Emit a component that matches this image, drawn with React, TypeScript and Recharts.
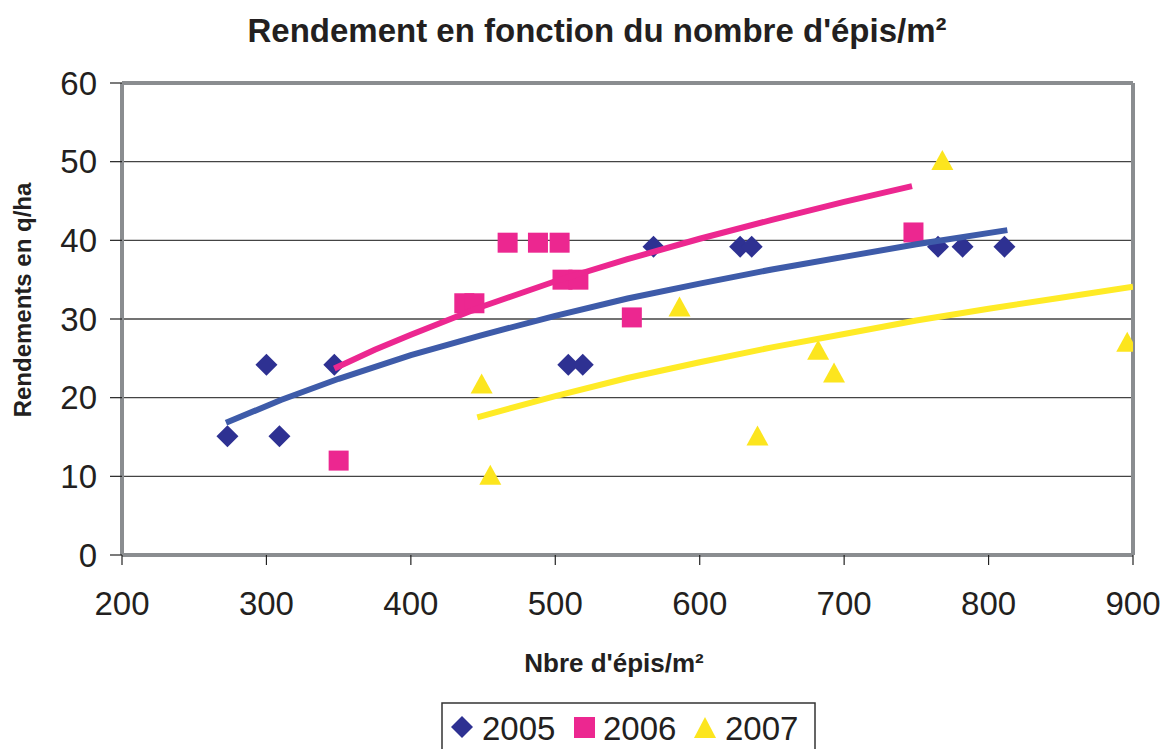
import React from 'react';
import {
  ScatterChart,
  Scatter,
  XAxis,
  YAxis,
  CartesianGrid,
  ReferenceLine
} from 'recharts';

// values
const xTicks = [200, 300, 400, 500, 600, 700, 800, 900];
const yTicks = [0, 10, 20, 30, 40, 50, 60];

const points2005 = [
  { x: 273, y: 15.1 }, { x: 300, y: 24.2 }, { x: 309, y: 15.1 }, { x: 347, y: 24.2 },
  { x: 509, y: 24.2 }, { x: 519, y: 24.2 }, { x: 568, y: 39.2 }, { x: 628, y: 39.2 },
  { x: 636, y: 39.2 }, { x: 765, y: 39.2 }, { x: 782, y: 39.2 }, { x: 811, y: 39.2 }
];
const points2006 = [
  { x: 350, y: 12.0 }, { x: 437, y: 32.0 }, { x: 444, y: 32.0 }, { x: 467, y: 39.7 },
  { x: 488, y: 39.7 }, { x: 503, y: 39.7 }, { x: 505, y: 35.0 }, { x: 516, y: 35.0 },
  { x: 553, y: 30.2 }, { x: 748, y: 41.0 }
];
const points2007 = [
  { x: 449, y: 21.8 }, { x: 455, y: 10.2 }, { x: 586, y: 31.6 }, { x: 640, y: 15.2 },
  { x: 682, y: 26.1 }, { x: 693, y: 23.2 }, { x: 768, y: 50.2 }, { x: 896, y: 27.1 }
];

// trend curves
const trend2005 = [
  { x: 272, y: 16.8 }, { x: 310, y: 19.7 }, { x: 350, y: 22.4 }, { x: 400, y: 25.4 },
  { x: 448, y: 27.9 }, { x: 500, y: 30.4 }, { x: 550, y: 32.6 }, { x: 600, y: 34.5 },
  { x: 650, y: 36.3 }, { x: 700, y: 37.9 }, { x: 750, y: 39.5 }, { x: 813, y: 41.3 }
];
const trend2006 = [
  { x: 347, y: 23.7 }, { x: 375, y: 26.1 }, { x: 400, y: 28.0 }, { x: 448, y: 31.5 },
  { x: 500, y: 34.8 }, { x: 550, y: 37.6 }, { x: 600, y: 40.2 }, { x: 650, y: 42.6 },
  { x: 700, y: 44.9 }, { x: 747, y: 46.9 }
];
const trend2007 = [
  { x: 446, y: 17.5 }, { x: 500, y: 20.2 }, { x: 550, y: 22.5 }, { x: 600, y: 24.5 },
  { x: 650, y: 26.4 }, { x: 700, y: 28.1 }, { x: 750, y: 29.8 }, { x: 800, y: 31.3 },
  { x: 850, y: 32.7 }, { x: 900, y: 34.1 }
];

const NAVY = '#2E3192';
const PINK = '#EC2790';
const YELLOW = '#FCE51E';
const BLUE_LINE = '#3E5BA9';
const PINK_LINE = '#EC2790';
const YELLOW_LINE = '#FFEB26';
const FRAME = '#8A8D90';
const FONT = '"Liberation Sans", Arial, Helvetica, sans-serif';

const Diamond = (props: any) => {
  const { cx, cy } = props;
  const r = 11;
  return <polygon points={`${cx},${cy - r} ${cx + r},${cy} ${cx},${cy + r} ${cx - r},${cy}`} fill={NAVY} />;
};

const Square = (props: any) => {
  const { cx, cy } = props;
  return <rect x={cx - 10} y={cy - 10} width={20} height={20} fill={PINK} />;
};

const Triangle = (props: any) => {
  const { cx, cy } = props;
  return <polygon points={`${cx},${cy - 10} ${cx + 11},${cy + 10} ${cx - 11},${cy + 10}`} fill={YELLOW} />;
};

const NoDot = () => <g />;

export default function App() {
  return (
    <div style={{ position: 'absolute', left: 0, top: 0, width: 1161, height: 749, background: '#fff' }}>
      <ScatterChart
        width={1161}
        height={749}
        margin={{ top: 83, right: 28, bottom: 134, left: 0 }}
      >
        <CartesianGrid vertical={false} stroke="#444" strokeWidth={1.3} />
        <XAxis
          type="number"
          dataKey="x"
          domain={[200, 900]}
          ticks={xTicks}
          height={60}
          axisLine={{ stroke: FRAME, strokeWidth: 4 }}
          tickLine={{ stroke: '#222', strokeWidth: 1.2 }}
          tickSize={10}
          tickMargin={27}
          tick={{ fill: '#231F20', fontSize: 33, fontFamily: FONT }}
          allowDataOverflow
        />
        <YAxis
          type="number"
          dataKey="y"
          domain={[0, 60]}
          ticks={yTicks}
          width={122}
          axisLine={{ stroke: FRAME, strokeWidth: 4 }}
          tickLine={{ stroke: '#222', strokeWidth: 1.2 }}
          tickSize={12}
          tickMargin={13}
          tick={{ fill: '#231F20', fontSize: 33, fontFamily: FONT }}
          allowDataOverflow
        />
        <ReferenceLine y={60} stroke={FRAME} strokeWidth={4} />
        <ReferenceLine x={900} stroke={FRAME} strokeWidth={4} />
        <Scatter name="2005" data={points2005} shape={Diamond} isAnimationActive={false} />
        <Scatter name="2006" data={points2006} shape={Square} isAnimationActive={false} />
        <Scatter name="2007" data={points2007} shape={Triangle} isAnimationActive={false} />
        <Scatter
          data={trend2005}
          line={{ stroke: BLUE_LINE, strokeWidth: 6 }}
          lineType="joint"
          shape={NoDot}
          legendType="none"
          isAnimationActive={false}
        />
        <Scatter
          data={trend2006}
          line={{ stroke: PINK_LINE, strokeWidth: 6 }}
          lineType="joint"
          shape={NoDot}
          legendType="none"
          isAnimationActive={false}
        />
        <Scatter
          data={trend2007}
          line={{ stroke: YELLOW_LINE, strokeWidth: 6 }}
          lineType="joint"
          shape={NoDot}
          legendType="none"
          isAnimationActive={false}
        />
      </ScatterChart>

      <svg
        width={1161}
        height={749}
        style={{ position: 'absolute', left: 0, top: 0, pointerEvents: 'none' }}
        fontFamily={FONT}
      >
        <text x={597} y={42} textAnchor="middle" fontSize={33} fontWeight="bold" fill="#231F20">
          Rendement en fonction du nombre d'épis/m²
        </text>
        <text x={614} y={672} textAnchor="middle" fontSize={26} fontWeight="bold" fill="#231F20">
          Nbre d'épis/m²
        </text>
        <text
          x={31}
          y={300}
          textAnchor="middle"
          fontSize={24}
          fontWeight="bold"
          fill="#231F20"
          transform="rotate(-90 31 300)"
        >
          Rendements en q/ha
        </text>

        <rect x={442} y={703} width={373} height={60} fill="#fff" stroke="#333" strokeWidth={1.5} />
        <polygon points="462,716 473,727 462,738 451,727" fill={NAVY} />
        <text x={482} y={740} fontSize={33} fill="#231F20">2005</text>
        <rect x={574} y={717} width={21} height={21} fill={PINK} />
        <text x={603} y={740} fontSize={33} fill="#231F20">2006</text>
        <polygon points="705,717 716,738 694,738" fill={YELLOW} />
        <text x={725} y={740} fontSize={33} fill="#231F20">2007</text>
      </svg>
    </div>
  );
}
